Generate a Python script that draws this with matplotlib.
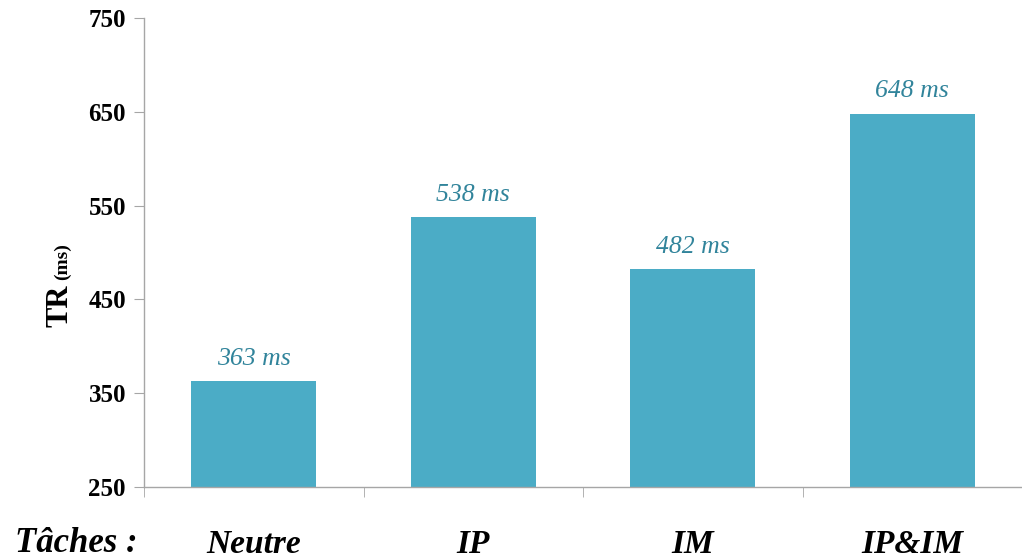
import numpy as np
import matplotlib.pyplot as plt

taches = ["Neutre", "IP", "IM", "IP&IM"]
tr_ms = [363, 538, 482, 648]
yticks = [250, 350, 450, 550, 650, 750]

plt.rcParams['font.family'] = ['Liberation Serif', 'DejaVu Serif']

fig = plt.figure(figsize=(10.22, 5.6), dpi=100)
ax = fig.add_axes([144 / 1022, 1 - 487 / 560, 1 - 144 / 1022, (487 - 18) / 560])

x = np.arange(len(taches))
bars = ax.bar(x, tr_ms, width=0.57, color="#4BACC6", zorder=2)

for b, v in zip(bars, tr_ms):
    ax.text(b.get_x() + b.get_width() / 2, v + 12, f"{v} ms", ha="center", va="bottom",
            color="#31849B", fontsize=18.5, style="italic")

ax.set_xlim(-0.5, len(taches) - 0.5)
ax.set_ylim(250, 750)
ax.set_yticks(yticks)
ax.set_yticklabels([str(t) for t in yticks], fontsize=18, fontweight="bold")

ax.set_xticks(x)
ax.set_xticklabels(taches, fontsize=24, fontweight="bold", style="italic")
ax.set_xticks(np.arange(len(taches) + 1) - 0.5, minor=True)
ax.tick_params(axis="x", which="major", length=0, pad=30)
ax.tick_params(axis="x", which="minor", length=7, color="#A6A6A6", direction="out")
ax.tick_params(axis="y", length=7, color="#A6A6A6", direction="out", pad=6)

for s in ["top", "right"]:
    ax.spines[s].set_visible(False)
for s in ["left", "bottom"]:
    ax.spines[s].set_color("#A6A6A6")
    ax.spines[s].set_linewidth(1.0)

fig.text(60 / 1022, 1 - 306 / 560, "TR", rotation=90, ha="center", va="center",
         fontsize=22, fontweight="bold")
fig.text(62 / 1022, 1 - 262 / 560, "(ms)", rotation=90, ha="center", va="center",
         fontsize=14, fontweight="bold")
fig.text(15 / 1022, 1 - 543 / 560, "Tâches :", ha="left", va="center",
         fontsize=25, fontweight="bold", style="italic")

fig.savefig("out.png", dpi=100)
